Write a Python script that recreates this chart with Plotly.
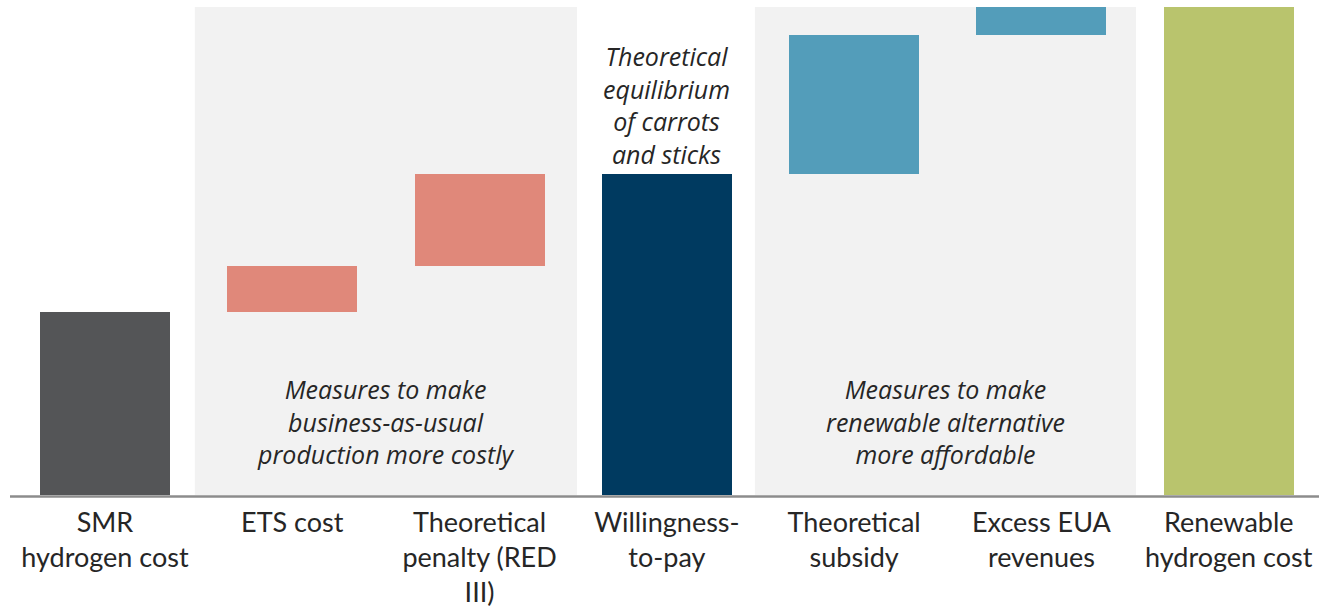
import plotly.graph_objects as go

categories = ["SMR<br>hydrogen cost", "ETS cost", "Theoretical<br>penalty (RED<br>III)",
              "Willingness-<br>to-pay", "Theoretical<br>subsidy", "Excess EUA<br>revenues",
              "Renewable<br>hydrogen cost"]
# step values (relative units, renewable cost = 100)
steps = [37.6, 9.3, 18.9, None, 28.5, 5.7, None]
kinds = ["total", "relative", "relative", "total", "relative", "relative", "total"]
colors = ["#545557", "#e0887a", "#e0887a", "#003a60", "#539dba", "#539dba", "#b9c46d"]

group_labels = ["<i>Measures to make<br>business-as-usual<br>production more costly</i>",
                "<i>Measures to make<br>renewable alternative<br>more affordable</i>"]
group_spans = [(0.48, 2.52), (3.47, 5.505)]
wtp_note = "<i>Theoretical<br>equilibrium<br>of carrots<br>and sticks</i>"

# compute bases and heights
bases, heights = [], []
running = 0.0
for s, k in zip(steps, kinds):
    if k == "total":
        if s is not None:
            running = s
        bases.append(0)
        heights.append(running)
    else:
        bases.append(running)
        heights.append(s)
        running += s

x = list(range(len(categories)))

fig = go.Figure()
fig.add_trace(go.Bar(x=x, y=heights, base=bases, marker=dict(color=colors, line=dict(width=0)),
                     width=0.694, showlegend=False, hoverinfo="skip"))

for (a, b) in group_spans:
    fig.add_shape(type="rect", xref="x", yref="y", x0=a, x1=b, y0=0, y1=100,
                  fillcolor="#f2f2f2", line=dict(width=0), layer="below")

fig.add_shape(type="line", xref="paper", yref="paper", x0=0, x1=1, y0=-0.003, y1=-0.003,
              line=dict(color="#8c8c8c", width=2.5))

for (a, b), txt in zip(group_spans, group_labels):
    fig.add_annotation(x=(a + b) / 2, y=15.0, xref="x", yref="y", text=txt, showarrow=False,
                       font=dict(family="Open Sans", size=25, color="#262626"), align="center",
                       yanchor="middle")

fig.add_annotation(x=3, y=66.0, xref="x", yref="y", text=wtp_note, showarrow=False,
                   font=dict(family="Open Sans", size=25, color="#262626"), align="center",
                   yanchor="bottom")

fig.update_layout(
    width=1319, height=607,
    margin=dict(l=10, r=0, t=7, b=112),
    plot_bgcolor="white", paper_bgcolor="white",
    bargap=0,
    xaxis=dict(range=[-0.507, 6.482], tickmode="array", tickvals=x, ticktext=categories,
               showgrid=False, zeroline=False, showline=False, ticks="",
               ticklabelstandoff=9,
               tickfont=dict(family="Lato", size=27, color="#262626")),
    yaxis=dict(range=[0, 100], showgrid=False, zeroline=False, showline=False,
               showticklabels=False),
)

fig.write_html("out.html")
